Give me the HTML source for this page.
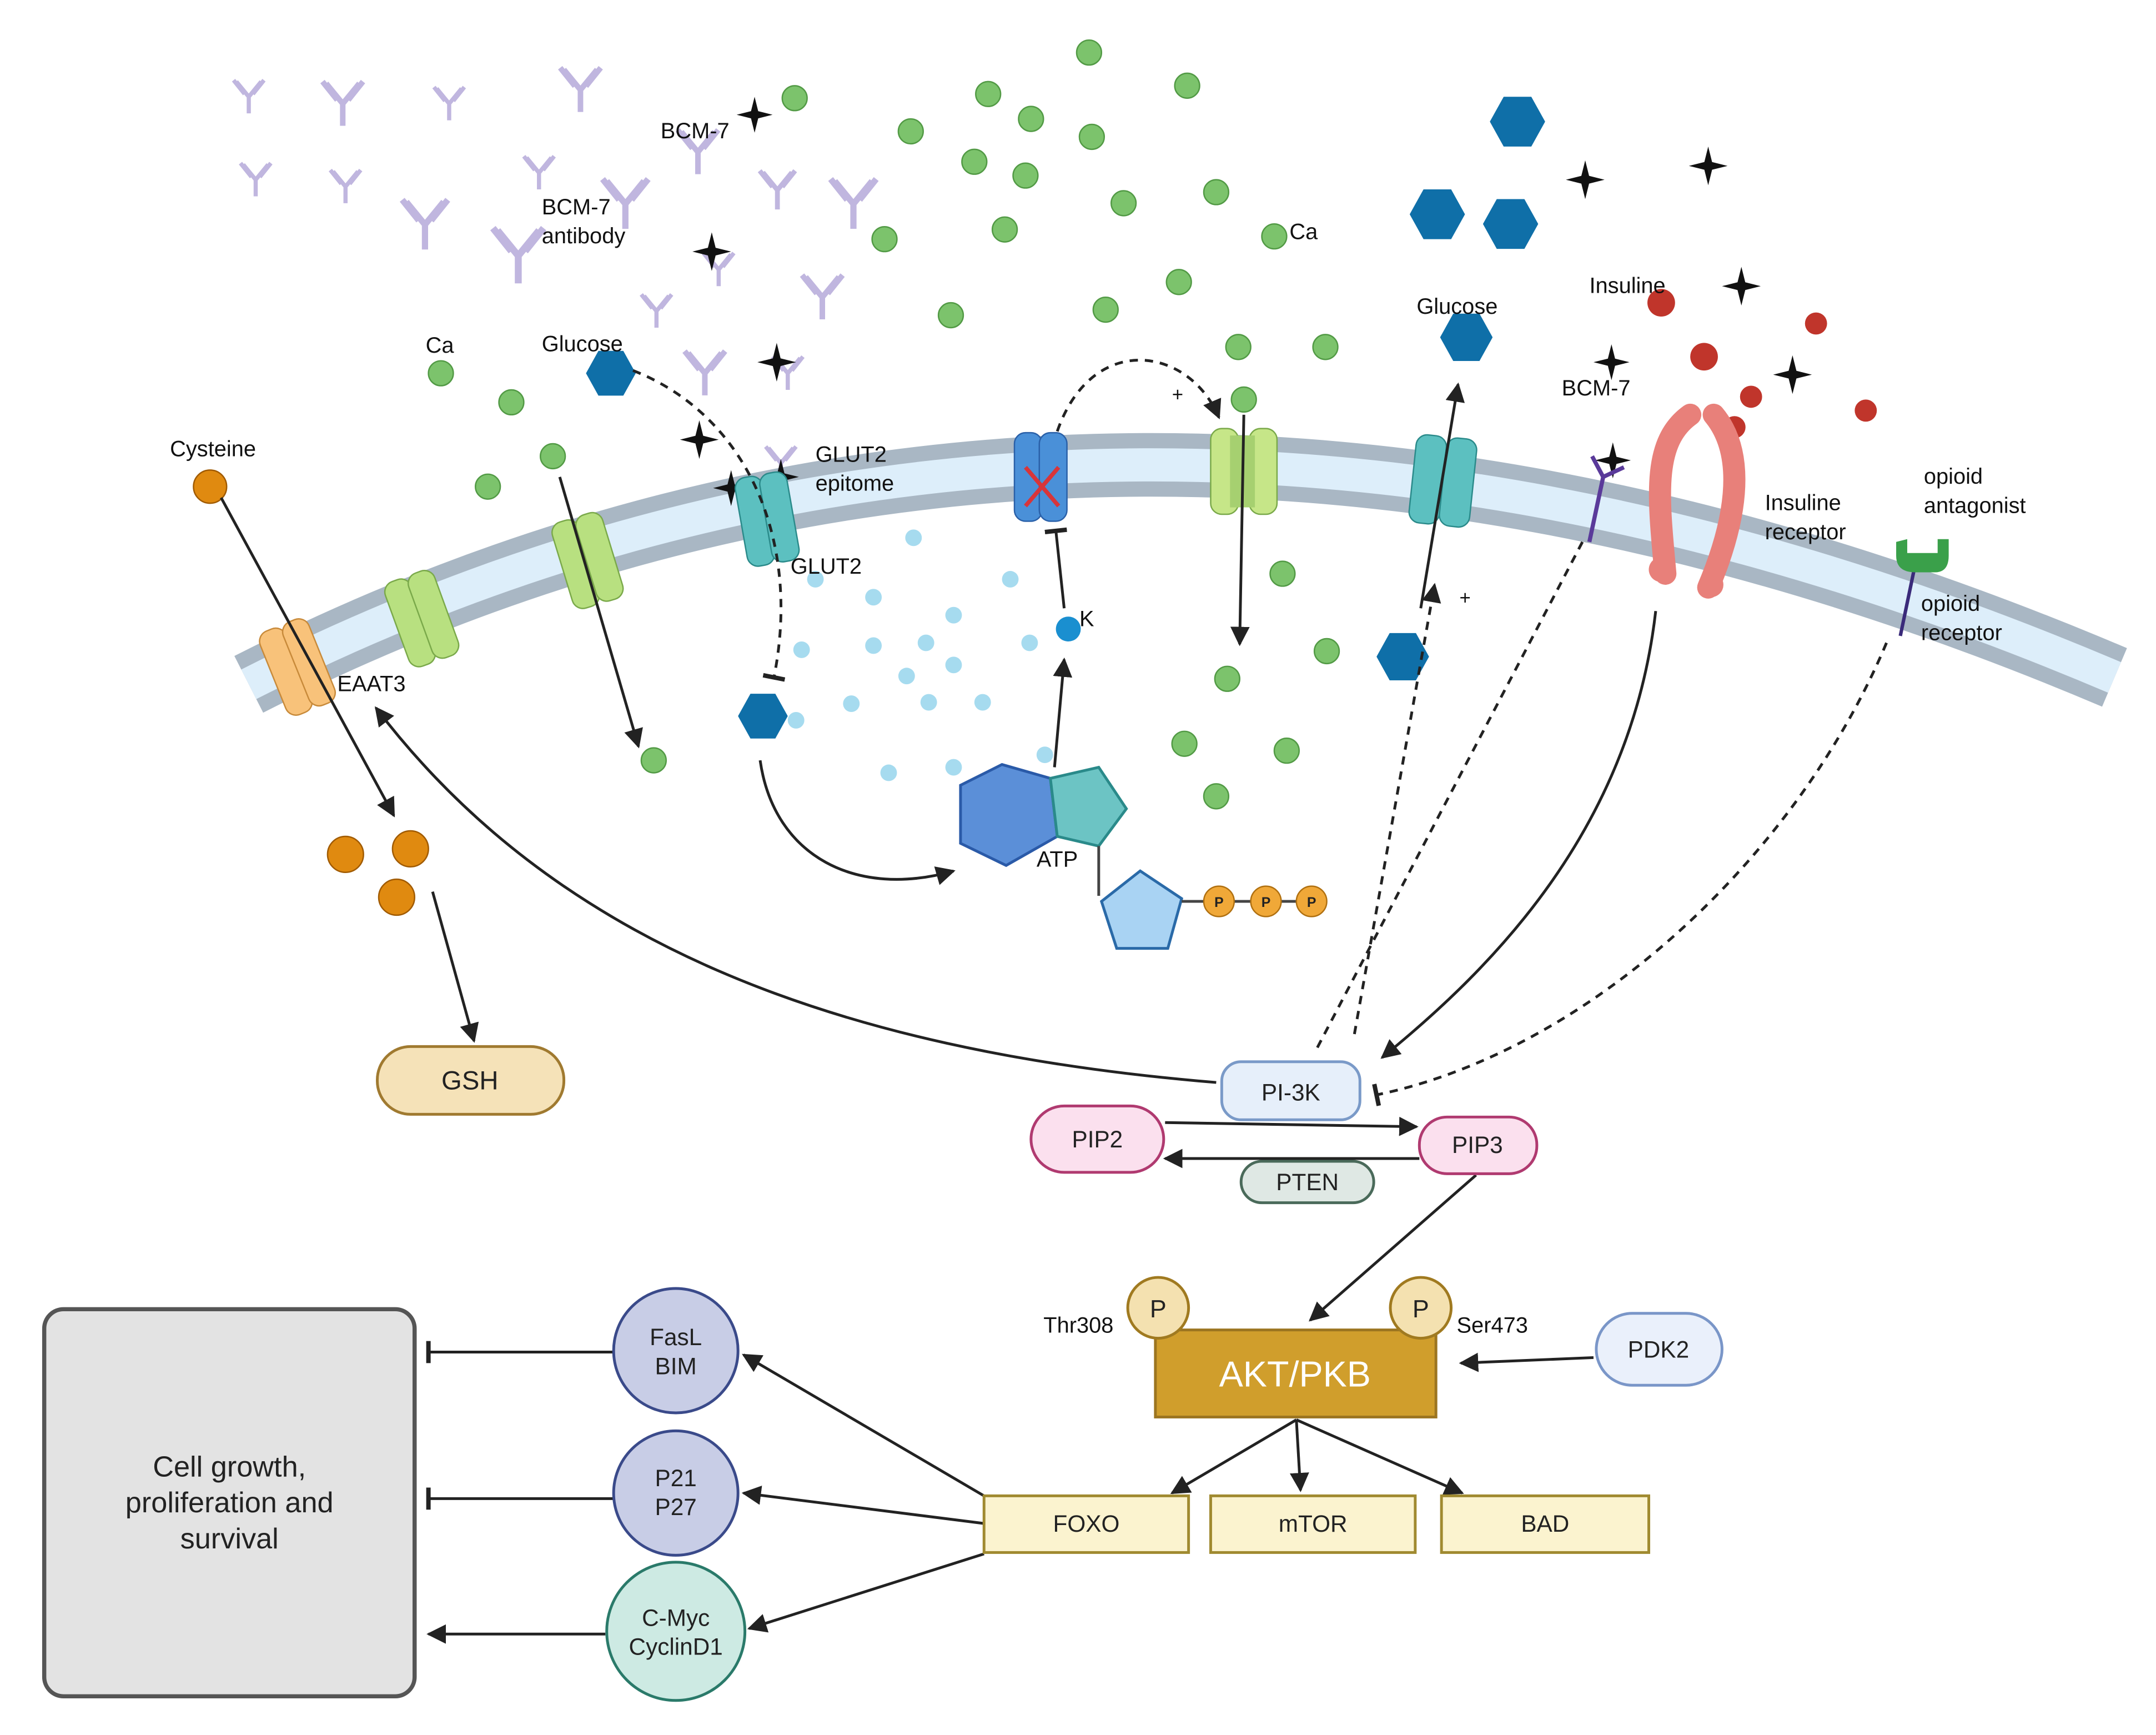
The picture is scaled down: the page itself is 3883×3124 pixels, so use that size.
<!DOCTYPE html>
<html><head><meta charset="utf-8"><style>html,body{margin:0;padding:0;background:#fff}svg{display:block}text{font-family:"Liberation Sans",sans-serif}</style></head><body>
<svg width="3883" height="3124" viewBox="0 0 1560 1255" preserveAspectRatio="none" xmlns="http://www.w3.org/2000/svg">
<defs>
<marker id="a" viewBox="0 0 10 10" refX="9" refY="5" markerWidth="7" markerHeight="7" orient="auto-start-reverse"><path d="M0,0L10,5L0,10z" fill="#222"/></marker>
<marker id="t" viewBox="0 0 10 10" refX="5" refY="5" markerWidth="8" markerHeight="8" orient="auto"><path d="M5,0V10" stroke="#222" stroke-width="2"/></marker>
<symbol id="star" viewBox="-10 -10 20 20"><path d="M0,-10L2,-2L10,0L2,2L0,10L-2,2L-10,0L-2,-2z" fill="#111"/></symbol>
<symbol id="hex" viewBox="-10 -10 20 20"><path d="M-5,-9L5,-9L10,0L5,9L-5,9L-10,0z" fill="#0f6fa8"/></symbol>
<symbol id="ab" viewBox="-15 -15 30 30"><path d="M0,12V0M0,0L-9,-11M0,0L9,-11M-3,-2L-11,-12M3,-2L11,-12" stroke="#c0b6df" stroke-width="3" fill="none"/></symbol>
</defs>
<!-- membrane -->
<path d="M180,495 Q800,180 1530,490" stroke="#a9b7c4" stroke-width="46" fill="none"/>
<path d="M180,495 Q800,180 1530,490" stroke="#ddeefa" stroke-width="24" fill="none"/>
<!-- antibodies -->
<g>
<use href="#ab" x="165" y="55" width="30" height="30"/><use href="#ab" x="228" y="55" width="40" height="40"/><use href="#ab" x="310" y="60" width="30" height="30"/><use href="#ab" x="400" y="45" width="40" height="40"/><use href="#ab" x="170" y="115" width="30" height="30"/><use href="#ab" x="235" y="120" width="30" height="30"/><use href="#ab" x="285" y="140" width="45" height="45"/><use href="#ab" x="350" y="160" width="50" height="50"/><use href="#ab" x="375" y="110" width="30" height="30"/><use href="#ab" x="430" y="125" width="45" height="45"/><use href="#ab" x="485" y="90" width="40" height="40"/><use href="#ab" x="545" y="120" width="35" height="35"/><use href="#ab" x="595" y="125" width="45" height="45"/><use href="#ab" x="575" y="195" width="40" height="40"/><use href="#ab" x="460" y="210" width="30" height="30"/><use href="#ab" x="490" y="250" width="40" height="40"/><use href="#ab" x="505" y="180" width="30" height="30"/><use href="#ab" x="555" y="255" width="30" height="30"/><use href="#ab" x="550" y="320" width="30" height="30"/>
</g>
<!-- green dots -->
<g fill="#7cc36c" stroke="#529a45" stroke-width="1">
<circle cx="575" cy="71" r="9"/><circle cx="659" cy="95" r="9"/><circle cx="715" cy="68" r="9"/><circle cx="746" cy="86" r="9"/><circle cx="790" cy="99" r="9"/><circle cx="859" cy="62" r="9"/><circle cx="788" cy="38" r="9"/><circle cx="705" cy="117" r="9"/><circle cx="742" cy="127" r="9"/><circle cx="813" cy="147" r="9"/><circle cx="880" cy="139" r="9"/><circle cx="640" cy="173" r="9"/><circle cx="727" cy="166" r="9"/><circle cx="922" cy="171" r="9"/><circle cx="853" cy="204" r="9"/><circle cx="800" cy="224" r="9"/><circle cx="688" cy="228" r="9"/><circle cx="896" cy="251" r="9"/><circle cx="959" cy="251" r="9"/><circle cx="900" cy="289" r="9"/><circle cx="319" cy="270" r="9"/><circle cx="370" cy="291" r="9"/><circle cx="400" cy="330" r="9"/><circle cx="353" cy="352" r="9"/><circle cx="928" cy="415" r="9"/><circle cx="960" cy="471" r="9"/><circle cx="888" cy="491" r="9"/><circle cx="857" cy="538" r="9"/><circle cx="931" cy="543" r="9"/><circle cx="880" cy="576" r="9"/><circle cx="473" cy="550" r="9"/>
</g>
<!-- blue small dots -->
<g fill="#a6dbef">
<circle cx="661" cy="389" r="6"/><circle cx="590" cy="419" r="6"/><circle cx="731" cy="419" r="6"/><circle cx="632" cy="432" r="6"/><circle cx="690" cy="445" r="6"/><circle cx="580" cy="470" r="6"/><circle cx="632" cy="467" r="6"/><circle cx="670" cy="465" r="6"/><circle cx="745" cy="465" r="6"/><circle cx="690" cy="481" r="6"/><circle cx="656" cy="489" r="6"/><circle cx="616" cy="509" r="6"/><circle cx="672" cy="508" r="6"/><circle cx="711" cy="508" r="6"/><circle cx="576" cy="521" r="6"/><circle cx="643" cy="559" r="6"/><circle cx="690" cy="555" r="6"/><circle cx="756" cy="546" r="6"/>
</g>
<circle cx="773" cy="455" r="9" fill="#1a8fd0"/>
<!-- red dots -->
<g fill="#c0352b"><circle cx="1202" cy="219" r="10"/><circle cx="1314" cy="234" r="8"/><circle cx="1233" cy="258" r="10"/><circle cx="1267" cy="287" r="8"/><circle cx="1350" cy="297" r="8"/><circle cx="1255" cy="309" r="8"/></g>
<!-- hexagons -->
<use href="#hex" x="1078" y="68" width="40" height="40"/><use href="#hex" x="1020" y="135" width="40" height="40"/><use href="#hex" x="1073" y="142" width="40" height="40"/><use href="#hex" x="1042" y="225" width="38" height="38"/><use href="#hex" x="424" y="252" width="36" height="36"/><use href="#hex" x="534" y="498" width="36" height="40"/><use href="#hex" x="996" y="455" width="38" height="40"/>
<!-- stars -->
<use href="#star" x="533" y="70" width="26" height="26"/><use href="#star" x="501" y="168" width="28" height="28"/><use href="#star" x="548" y="248" width="28" height="28"/><use href="#star" x="492" y="304" width="28" height="28"/><use href="#star" x="516" y="340" width="26" height="26"/><use href="#star" x="552" y="332" width="26" height="26"/><use href="#star" x="1133" y="116" width="28" height="28"/><use href="#star" x="1222" y="106" width="28" height="28"/><use href="#star" x="1246" y="193" width="28" height="28"/><use href="#star" x="1153" y="249" width="26" height="26"/><use href="#star" x="1283" y="257" width="28" height="28"/><use href="#star" x="1154" y="320" width="26" height="26"/>
<!-- channels -->
<g transform="rotate(-22 215 482)"><rect x="196" y="450" width="20" height="65" rx="8" fill="#f8c27a" stroke="#c88a3a"/><rect x="214" y="450" width="20" height="65" rx="8" fill="#f8c27a" stroke="#c88a3a"/></g>
<g transform="rotate(-20 305 447)"><rect x="286" y="415" width="20" height="65" rx="8" fill="#b8e080" stroke="#7aa94a"/><rect x="304" y="415" width="20" height="65" rx="8" fill="#b8e080" stroke="#7aa94a"/></g>
<g transform="rotate(-17 425 405)"><rect x="406" y="373" width="20" height="65" rx="8" fill="#b8e080" stroke="#7aa94a"/><rect x="424" y="373" width="20" height="65" rx="8" fill="#b8e080" stroke="#7aa94a"/></g>
<g transform="rotate(-10 555 375)"><rect x="536" y="343" width="20" height="65" rx="8" fill="#5cc0c0" stroke="#2a8a8a"/><rect x="554" y="343" width="20" height="65" rx="8" fill="#5cc0c0" stroke="#2a8a8a"/></g>
<rect x="734" y="313" width="20" height="64" rx="8" fill="#4a90d8" stroke="#2a60a8"/><rect x="752" y="313" width="20" height="64" rx="8" fill="#4a90d8" stroke="#2a60a8"/>
<path d="M742,338L766,366M766,338L742,366" stroke="#d8353a" stroke-width="3"/>
<rect x="876" y="310" width="20" height="62" rx="8" fill="#c6e688" stroke="#7aa94a"/><rect x="904" y="310" width="20" height="62" rx="8" fill="#c6e688" stroke="#7aa94a"/><rect x="890" y="315" width="18" height="52" fill="#a6d070"/>
<g transform="rotate(6 1045 348)"><rect x="1022" y="316" width="22" height="64" rx="8" fill="#5cc0c0" stroke="#2a8a8a"/><rect x="1044" y="316" width="22" height="64" rx="8" fill="#5cc0c0" stroke="#2a8a8a"/></g>
<!-- receptors -->
<path d="M1150,392L1160,345M1160,345L1152,330M1160,345L1175,338" stroke="#5a3a9a" stroke-width="3" fill="none"/>
<path d="M1223,300C1195,320 1200,360 1205,415M1240,300C1265,330 1255,380 1236,425" stroke="#e8807a" stroke-width="16" fill="none" stroke-linecap="round"/>
<circle cx="1202" cy="412" r="9" fill="#e8807a"/><circle cx="1238" cy="423" r="9" fill="#e8807a"/>
<path d="M1385,412L1375,460" stroke="#3a2a7a" stroke-width="2.5"/>
<path d="M1372,392v10q0,12 14,12h14q10,0 10,-12v-12h-8v10h-22v-10z" fill="#3aa04a"/>
<!-- EAAT3 cysteine etc -->
<circle cx="152" cy="352" r="12" fill="#e08a10" stroke="#a05a00"/>
<circle cx="250" cy="618" r="13" fill="#e08a10" stroke="#a05a00"/><circle cx="297" cy="614" r="13" fill="#e08a10" stroke="#a05a00"/><circle cx="287" cy="649" r="13" fill="#e08a10" stroke="#a05a00"/>
<!-- ATP -->
<path d="M725,553L760,563L765,605L728,626L695,610L695,568z" fill="#5b8fd8" stroke="#2a5aa8" stroke-width="2"/>
<path d="M760,563L795,555L815,585L795,612L765,605z" fill="#6cc4c4" stroke="#2a8a8a" stroke-width="2"/>
<path d="M795,612V648" stroke="#444" stroke-width="2"/>
<path d="M825,630L855,650L845,686L808,686L797,652z" fill="#a9d3f3" stroke="#2a6aa8" stroke-width="2"/>
<path d="M855,652H950" stroke="#444" stroke-width="2"/>
<g fill="#f0a838" stroke="#b07010"><circle cx="882" cy="652" r="11"/><circle cx="916" cy="652" r="11"/><circle cx="949" cy="652" r="11"/></g>
<g font-size="10" font-weight="bold" text-anchor="middle" fill="#222"><text x="882" y="656">P</text><text x="916" y="656">P</text><text x="949" y="656">P</text></g>
<!-- connectors -->
<g stroke="#222" stroke-width="2" fill="none">
<path d="M160,360L285,590" marker-end="url(#a)"/>
<path d="M405,345L462,540" marker-end="url(#a)"/>
<path d="M313,645L343,753" marker-end="url(#a)"/>
<path d="M550,550C560,620 620,650 690,630" marker-end="url(#a)"/>
<path d="M763,555L770,477" marker-end="url(#a)"/>
<path d="M770,440L764,384" marker-end="url(#t)"/>
<path d="M900,300L897,466" marker-end="url(#a)"/>
<path d="M1028,440L1055,278" marker-end="url(#a)"/>
<path d="M1198,442C1180,600 1080,700 1000,765" marker-end="url(#a)"/>
<path d="M880,783C600,760 400,680 272,512" marker-end="url(#a)"/>
<path d="M843,812L1025,815" marker-end="url(#a)"/>
<path d="M1027,838L843,838" marker-end="url(#a)"/>
<path d="M1068,850L948,955" marker-end="url(#a)"/>
<path d="M1153,982L1057,986" marker-end="url(#a)"/>
<path d="M938,1027L848,1080" marker-end="url(#a)"/>
<path d="M938,1027L941,1078" marker-end="url(#a)"/>
<path d="M938,1027L1058,1080" marker-end="url(#a)"/>
<path d="M712,1082L538,980" marker-end="url(#a)"/>
<path d="M712,1102L538,1080" marker-end="url(#a)"/>
<path d="M712,1124L542,1178" marker-end="url(#a)"/>
<path d="M444,978L310,978" marker-end="url(#t)"/>
<path d="M444,1084L310,1084" marker-end="url(#t)"/>
<path d="M438,1182L310,1182" marker-end="url(#a)"/>
</g>
<g stroke="#222" stroke-width="2" fill="none" stroke-dasharray="6,5">
<path d="M458,268C540,300 580,390 560,490" marker-end="url(#t)"/>
<path d="M765,312C790,240 860,250 882,302" marker-end="url(#a)"/>
<path d="M1145,392L952,760"/>
<path d="M980,748L1038,423" marker-end="url(#a)"/>
<path d="M1365,465C1300,620 1150,760 996,792" marker-end="url(#t)"/>
</g>
<!-- nodes -->
<rect x="273" y="757" width="135" height="49" rx="24" fill="#f5e2b8" stroke="#a07a30" stroke-width="2"/>
<rect x="884" y="768" width="100" height="42" rx="14" fill="#e6effa" stroke="#7a9ac8" stroke-width="2"/>
<rect x="746" y="800" width="96" height="48" rx="24" fill="#fbe0ee" stroke="#b03a70" stroke-width="2"/>
<rect x="1027" y="808" width="85" height="41" rx="20" fill="#fbe0ee" stroke="#b03a70" stroke-width="2"/>
<rect x="898" y="840" width="96" height="30" rx="15" fill="#dfe8e4" stroke="#4a6a5a" stroke-width="2"/>
<rect x="836" y="962" width="203" height="63" fill="#d09e2c" stroke="#9c7520" stroke-width="2"/>
<circle cx="838" cy="946" r="22" fill="#f4e1b0" stroke="#a07a20" stroke-width="2"/><circle cx="1028" cy="946" r="22" fill="#f4e1b0" stroke="#a07a20" stroke-width="2"/>
<rect x="1155" y="950" width="91" height="52" rx="26" fill="#eaf0fb" stroke="#7a96c8" stroke-width="2"/>
<rect x="712" y="1082" width="148" height="41" fill="#fbf3cf" stroke="#a08a30" stroke-width="2"/>
<rect x="876" y="1082" width="148" height="41" fill="#fbf3cf" stroke="#a08a30" stroke-width="2"/>
<rect x="1043" y="1082" width="150" height="41" fill="#fbf3cf" stroke="#a08a30" stroke-width="2"/>
<circle cx="489" cy="977" r="45" fill="#c8cde6" stroke="#3a4a8a" stroke-width="2"/>
<circle cx="489" cy="1080" r="45" fill="#c8cde6" stroke="#3a4a8a" stroke-width="2"/>
<circle cx="489" cy="1180" r="50" fill="#cdeae3" stroke="#2a7a6a" stroke-width="2"/>
<rect x="32" y="947" width="268" height="280" rx="14" fill="#e3e3e3" stroke="#555" stroke-width="3"/>
<!-- labels -->
<g font-size="16" fill="#111">
<text x="478" y="100">BCM-7</text><text x="392" y="155">BCM-7</text><text x="392" y="176">antibody</text>
<text x="308" y="255">Ca</text><text x="392" y="254">Glucose</text><text x="933" y="173">Ca</text>
<text x="123" y="330">Cysteine</text><text x="590" y="334">GLUT2</text><text x="590" y="355">epitome</text><text x="572" y="415">GLUT2</text>
<text x="244" y="500">EAAT3</text><text x="750" y="627">ATP</text><text x="781" y="453">K</text>
<text x="1025" y="227">Glucose</text><text x="1150" y="212">Insuline</text><text x="1130" y="286">BCM-7</text>
<text x="1277" y="369">Insuline</text><text x="1277" y="390">receptor</text>
<text x="1392" y="350">opioid</text><text x="1392" y="371">antagonist</text>
<text x="1390" y="442">opioid</text><text x="1390" y="463">receptor</text>
<text x="848" y="290" font-size="14">+</text><text x="1056" y="437" font-size="14">+</text>
<text x="755" y="964">Thr308</text><text x="1054" y="964">Ser473</text>
</g>
<g font-size="17" fill="#222" text-anchor="middle">
<text x="340" y="788" font-size="19">GSH</text><text x="934" y="796">PI-3K</text><text x="794" y="830">PIP2</text><text x="1069" y="834">PIP3</text><text x="946" y="861">PTEN</text>
<text x="838" y="953" font-size="18">P</text><text x="1028" y="953" font-size="18">P</text>
<text x="1200" y="982">PDK2</text>
<text x="786" y="1108">FOXO</text><text x="950" y="1108">mTOR</text><text x="1118" y="1108">BAD</text>
<text x="489" y="973">FasL</text><text x="489" y="994">BIM</text>
<text x="489" y="1075">P21</text><text x="489" y="1096">P27</text>
<text x="489" y="1176">C-Myc</text><text x="489" y="1197">CyclinD1</text>
<text x="166" y="1068" font-size="21">Cell growth,</text><text x="166" y="1094" font-size="21">proliferation and</text><text x="166" y="1120" font-size="21">survival</text>
<text x="937" y="1003" font-size="26" fill="#fff">AKT/PKB</text>
</g>
</svg>
</body></html>
